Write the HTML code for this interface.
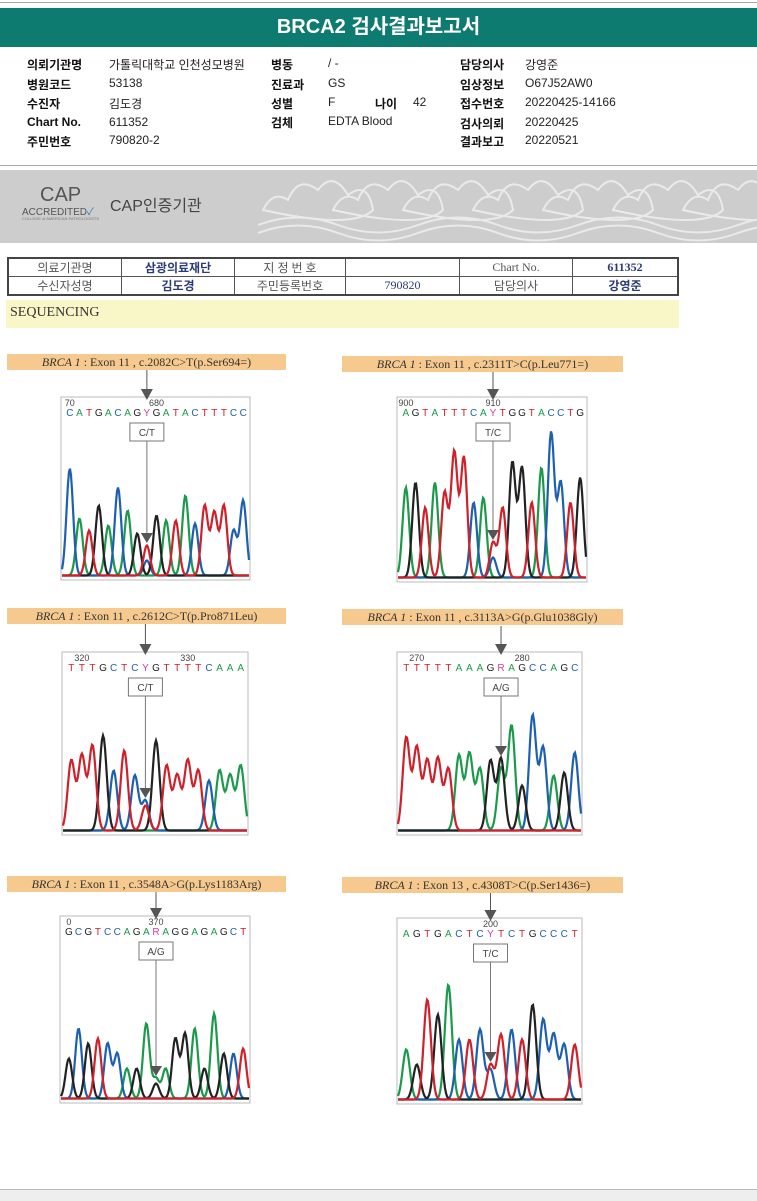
<!DOCTYPE html>
<html><head><meta charset="utf-8">
<style>
body{margin:0;width:757px;height:1200px;background:#fff;position:relative;overflow:hidden;font-family:"Liberation Sans","Noto Sans CJK KR",sans-serif;}
.abs{position:absolute;}
.lbl{font-weight:bold;font-size:12px;color:#111;}
.val{font-size:12px;color:#222;}
.bar{position:absolute;height:16px;background:#f6c98e;font-family:"Liberation Serif","Noto Serif CJK SC",serif;font-size:12px;color:#333;text-align:center;line-height:16px;}
table.t{border-collapse:collapse;font-family:"Liberation Serif","Noto Sans CJK KR",serif;font-size:12px;color:#555;table-layout:fixed;}
table.t td{border:1px solid #555;height:13px;padding:0;text-align:center;}
table.t td.b{color:#2a3a7a;font-weight:bold;}
</style></head><body>
<div class="abs" style="left:0;top:2px;width:757px;height:1px;background:#aaa"></div>
<div class="abs" style="left:0;top:8px;width:757px;height:39px;background:#0e7b71;color:#fff;font-weight:bold;font-size:20px;text-align:center;line-height:39px;font-family:'Liberation Sans','Noto Sans CJK KR',sans-serif">BRCA2 검사결과보고서</div>
<div>
<div class="abs lbl" style="left:27px;top:56px">의뢰기관명</div><div class="abs val" style="left:109px;top:56px">가톨릭대학교 인천성모병원</div>
<div class="abs lbl" style="left:27px;top:76px">병원코드</div><div class="abs val" style="left:109px;top:76px">53138</div>
<div class="abs lbl" style="left:27px;top:95px">수진자</div><div class="abs val" style="left:109px;top:95px">김도경</div>
<div class="abs lbl" style="left:27px;top:115px">Chart No.</div><div class="abs val" style="left:109px;top:115px">611352</div>
<div class="abs lbl" style="left:27px;top:133px">주민번호</div><div class="abs val" style="left:109px;top:133px">790820-2</div>
<div class="abs lbl" style="left:271px;top:56px">병동</div><div class="abs val" style="left:328px;top:56px">/ -</div>
<div class="abs lbl" style="left:271px;top:76px">진료과</div><div class="abs val" style="left:328px;top:76px">GS</div>
<div class="abs lbl" style="left:271px;top:95px">성별</div><div class="abs val" style="left:328px;top:95px">F</div>
<div class="abs lbl" style="left:375px;top:95px">나이</div><div class="abs val" style="left:413px;top:95px">42</div>
<div class="abs lbl" style="left:271px;top:114px">검체</div><div class="abs val" style="left:328px;top:114px">EDTA Blood</div>
<div class="abs lbl" style="left:460px;top:56px">담당의사</div><div class="abs val" style="left:525px;top:56px">강영준</div>
<div class="abs lbl" style="left:460px;top:76px">임상정보</div><div class="abs val" style="left:525px;top:76px">O67J52AW0</div>
<div class="abs lbl" style="left:460px;top:95px">접수번호</div><div class="abs val" style="left:525px;top:95px">20220425-14166</div>
<div class="abs lbl" style="left:460px;top:115px">검사의뢰</div><div class="abs val" style="left:525px;top:115px">20220425</div>
<div class="abs lbl" style="left:460px;top:133px">결과보고</div><div class="abs val" style="left:525px;top:133px">20220521</div>
</div>
<div class="abs" style="left:0;top:165px;width:757px;height:1px;background:#aaa"></div>
<div class="abs" style="left:0;top:170px;width:757px;height:73px;background:#cdcdcd">
 <svg class="abs" style="left:258px;top:0" width="499" height="73">
  <g fill="none" stroke="#eaeaea" stroke-width="2">
   <path d="M5 40 q10-20 25-10 q10-25 30-10 q15-20 30 5 q20-15 25 15 q-20 20-110 0z"/>
   <path d="M75 40 q10-20 25-10 q10-25 30-10 q15-20 30 5 q20-15 25 15 q-20 20-110 0z"/>
   <path d="M145 40 q10-20 25-10 q10-25 30-10 q15-20 30 5 q20-15 25 15 q-20 20-110 0z"/>
   <path d="M215 40 q10-20 25-10 q10-25 30-10 q15-20 30 5 q20-15 25 15 q-20 20-110 0z"/>
   <path d="M285 40 q10-20 25-10 q10-25 30-10 q15-20 30 5 q20-15 25 15 q-20 20-110 0z"/>
   <path d="M355 40 q10-20 25-10 q10-25 30-10 q15-20 30 5 q20-15 25 15 q-20 20-110 0z"/>
   <path d="M425 40 q10-20 25-10 q10-25 30-10 q15-20 30 5 q20-15 25 15 q-20 20-110 0z"/>
   <path d="M0 55 q40-15 80 0 t80 0 t80 0 t80 0 t80 0 t80 0 t80 0"/>
   <path d="M0 63 q40-15 80 0 t80 0 t80 0 t80 0 t80 0 t80 0 t80 0"/>
  </g></svg>
 <div class="abs" style="left:40px;top:14px;font-size:20px;color:#555">CAP</div>
 <div class="abs" style="left:22px;top:33px;font-size:10px;color:#555">ACCREDITED<span style="color:#2a7ab8">✓</span></div>
 <div class="abs" style="left:22px;top:46px;font-size:4px;color:#777">COLLEGE of AMERICAN PATHOLOGISTS</div>
 <div class="abs" style="left:110px;top:22px;font-size:16px;color:#444">CAP인증기관</div>
</div>
<table class="t abs" style="left:7px;top:257px;width:672px;border:2px solid #444">
<tr><td style="width:112px">의료기관명</td><td class="b" style="width:112px">삼광의료재단</td><td style="width:110px">지 정 번 호</td><td style="width:113px"></td><td style="width:112px">Chart No.</td><td class="b">611352</td></tr>
<tr><td>수신자성명</td><td class="b">김도경</td><td>주민등록번호</td><td class="b" style="font-weight:normal">790820</td><td>담당의사</td><td class="b">강영준</td></tr>
</table>
<div class="abs" style="left:6px;top:300px;width:669px;height:28px;background:#f9f6c8;font-family:'Liberation Serif',serif;font-size:14px;color:#333;line-height:26px;padding-left:4px">SEQUENCING</div>

<div class="bar" style="left:7px;top:354px;width:279px"><i>BRCA 1</i> : Exon 11 , c.2082C&gt;T(p.Ser694=)</div>
<div class="bar" style="left:342px;top:356px;width:281px"><i>BRCA 1</i> : Exon 11 , c.2311T&gt;C(p.Leu771=)</div>
<div class="bar" style="left:7px;top:608px;width:279px"><i>BRCA 1</i> : Exon 11 , c.2612C&gt;T(p.Pro871Leu)</div>
<div class="bar" style="left:342px;top:609px;width:281px"><i>BRCA 1</i> : Exon 11 , c.3113A&gt;G(p.Glu1038Gly)</div>
<div class="bar" style="left:7px;top:876px;width:279px"><i>BRCA 1</i> : Exon 11 , c.3548A&gt;G(p.Lys1183Arg)</div>
<div class="bar" style="left:342px;top:877px;width:281px"><i>BRCA 1</i> : Exon 13 , c.4308T&gt;C(p.Ser1436=)</div>

<div class="abs" style="left:0;top:1189px;width:757px;height:11px;background:#eee;border-top:1px solid #bbb"></div>

<svg id="chrom" class="abs" style="left:0;top:0" width="757" height="1200"></svg>
<script>
// sequences (base calls), signal intensity per base, mutation index, het call, secondary base/intensity
const seq1="CATGACAGYGATACTTTCC";
const sig1=[107,57,45,70,50,88,65,42,30,60,55,55,80,52,70,63,70,45,75];
const het1={idx:8,call:"C/T",base2:"C",sig2:15,main:"T"};
const tick1=[["70",0],["680",9]];
const seq2="AGTATTTCAYTGGTACCTG";
const sig2=[90,95,70,95,85,125,120,75,80,35,70,115,110,75,110,145,95,75,100];
const het2={idx:9,call:"T/C",base2:"C",sig2:20,main:"T"};
const tick2=[["900",0],["910",9]];
const seq3="TTTGCTCYGTTTTCAAA";
const sig3=[70,75,85,95,60,80,55,30,90,65,55,70,60,50,60,55,65];
const het3={idx:7,call:"C/T",base2:"T",sig2:25,main:"C"};
const tick3=[["320",1],["330",11]];
const seq4="TTTTTAAAGRAGCCAGC";
const sig4=[93,83,70,72,62,75,77,62,70,72,105,45,115,83,55,58,78];
const het4={idx:9,call:"A/G",base2:"A",sig2:62,main:"G"};
const tick4=[["270",1],["280",11]];
const seq5="GCGTCCAGARAGGAGAGCT";
const sig5=[40,70,55,60,55,45,30,30,75,20,30,60,65,70,30,85,45,45,50];
const het5={idx:9,call:"A/G",base2:"G",sig2:15,main:"A"};
const tick5=[["0",0],["370",9]];
const seq6="AGTGACTCYTCTGCCCT";
const sig6=[50,35,100,85,115,60,60,70,35,65,70,60,95,80,65,55,55];
const het6={idx:8,call:"T/C",base2:"C",sig2:30,main:"T"};
const tick6=[["200",8]];

const panels=[
 {seq:seq1,sig:sig1,het:het1,tick:tick1,x:61,y:397,w:189,h:183,barY:370},
 {seq:seq2,sig:sig2,het:het2,tick:tick2,x:397,y:397,w:190,h:185,barY:372},
 {seq:seq3,sig:sig3,het:het3,tick:tick3,x:62,y:652,w:186,h:183,barY:624},
 {seq:seq4,sig:sig4,het:het4,tick:tick4,x:397,y:652,w:185,h:183,barY:626},
 {seq:seq5,sig:sig5,het:het5,tick:tick5,x:60,y:916,w:190,h:187,barY:892},
 {seq:seq6,sig:sig6,het:het6,tick:tick6,x:397,y:918,w:185,h:186,barY:893}
];
const col={A:"#1a9a4a",C:"#1d5fb0",G:"#222222",T:"#d0202a",Y:"#d040a0",R:"#d040a0"};
const NS="http://www.w3.org/2000/svg";
const svg=document.getElementById('chrom');
function mk(tag,attrs,parent){const e=document.createElementNS(NS,tag);for(const k in attrs)e.setAttribute(k,attrs[k]);(parent||svg).appendChild(e);return e;}
panels.forEach((p,pi)=>{
 const g=mk('g',{});
 
 
 const n=p.seq.length, step=(p.w-6)/n;
 const xs=i=>p.x+4+step*(i+0.5);
 const base=p.y+p.h-3;
 const ys=v=>base-v;
 mk('rect',{x:p.x,y:p.y,width:p.w,height:p.h,fill:"#fff",stroke:"#bbb","stroke-width":1},g);
 const sigma=step*0.34;
 ["A","C","G","T"].forEach(b=>{
  let pts=[];
  for(let x=p.x+1;x<=p.x+p.w-1;x+=1){
   let v=1.5;
   for(let i=0;i<n;i++){
    let c=p.seq[i],h=0;
    if(i===p.het.idx){ if(b===p.het.main)h=p.sig[i]; else if(b===p.het.base2)h=p.het.sig2; }
    else if(c===b)h=p.sig[i];
    if(h)v+=h*Math.exp(-((x-xs(i))**2)/(2*sigma*sigma));
   }
   pts.push(x.toFixed(1)+","+ys(v).toFixed(1));
  }
  const pl=mk('polyline',{points:pts.join(" "),fill:"none",stroke:col[b],"stroke-width":2.2},g);
  
  
 });
 for(let i=0;i<n;i++){
  const t=mk('text',{x:xs(i),y:p.y+19,"text-anchor":"middle","font-size":10,fill:col[p.seq[i]],"font-family":"Liberation Sans, sans-serif"},g);
  t.textContent=p.seq[i];
 }
 p.tick.forEach(tk=>{
  const t=mk('text',{x:xs(tk[1]),y:p.y+9,"text-anchor":"middle","font-size":9,fill:"#444","font-family":"Liberation Sans, sans-serif"},g);
  t.textContent=tk[0];
 });
 const mx=xs(p.het.idx);
 mk('line',{x1:mx,y1:p.barY,x2:mx,y2:p.y-2,stroke:"#555","stroke-width":1},g);
 mk('polygon',{points:(mx-6)+","+(p.y-8)+" "+(mx+6)+","+(p.y-8)+" "+mx+","+(p.y+3),fill:"#555"},g);
 mk('rect',{x:mx-17,y:p.y+26,width:34,height:18,fill:"#fff",stroke:"#777"},g);
 const ct=mk('text',{x:mx,y:p.y+39,"text-anchor":"middle","font-size":10,fill:"#444","font-family":"Liberation Sans, sans-serif"},g);
 ct.textContent=p.het.call;
 const tip=ys(Math.max(p.sig[p.het.idx],p.het.sig2))-4;
 mk('line',{x1:mx,y1:p.y+44,x2:mx,y2:tip-8,stroke:"#777","stroke-width":1},g);
 mk('polygon',{points:(mx-6)+","+(tip-10)+" "+(mx+6)+","+(tip-10)+" "+mx+","+tip,fill:"#555"},g);
});
</script>
</body></html>
